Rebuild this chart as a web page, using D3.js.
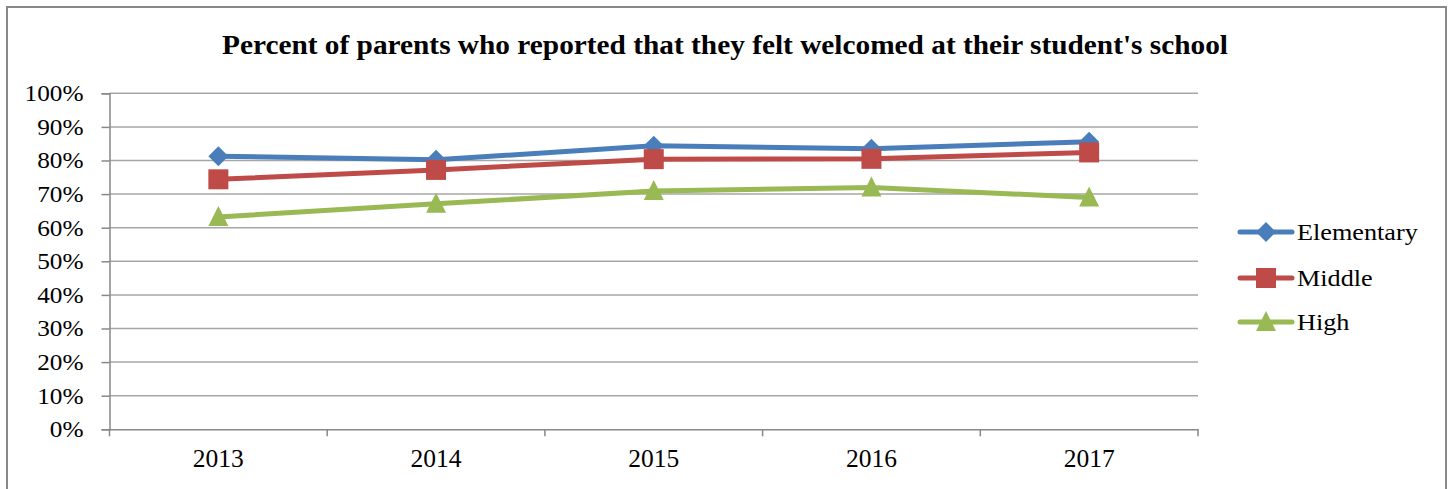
<!DOCTYPE html>
<html>
<head>
<meta charset="utf-8">
<script src="https://cdn.jsdelivr.net/npm/d3@7"></script>
<style>
  html, body { margin: 0; padding: 0; background: #fff; }
  svg { display: block; }
  text { font-family: "Liberation Serif", "Times New Roman", serif; fill: #000; }
</style>
</head>
<body>
<svg id="chart" width="1450" height="489"></svg>
<script>
const title = "Percent of parents who reported that they felt welcomed at their student's school";
const years = ["2013", "2014", "2015", "2016", "2017"];
const elementary = [81.3, 80.2, 84.4, 83.5, 85.6];
const middle = [74.4, 77.2, 80.4, 80.5, 82.4];
const high = [63.2, 67.1, 70.9, 72.0, 69.0];
const seriesNames = ["Elementary", "Middle", "High"];
const yTicks = [0, 10, 20, 30, 40, 50, 60, 70, 80, 90, 100];

const colors = ["#4A7EBB", "#BE4B48", "#98B954"];
const shapes = ["diamond", "square", "triangle"];
const seriesData = [elementary, middle, high];

const svg = d3.select("#chart");

// outer border
svg.append("rect").attr("x", 7).attr("y", 7).attr("width", 1439).attr("height", 500)
  .attr("fill", "none").attr("stroke", "#888").attr("stroke-width", 2);

const plot = {left: 109.5, right: 1198, top: 93.3, bottom: 429.3};

const x = d3.scaleBand().domain(years).range([plot.left, plot.right]).paddingInner(0).paddingOuter(0);
const y = d3.scaleLinear().domain([0, 100]).range([plot.bottom, plot.top]);

// title
svg.append("text").attr("x", 725).attr("y", 54).attr("text-anchor", "middle")
  .attr("font-size", 26.5).attr("font-weight", "bold")
  .attr("textLength", 1006).attr("lengthAdjust", "spacingAndGlyphs")
  .text(title);

// gridlines
svg.append("g").selectAll("line").data(yTicks.filter(d => d > 0)).join("line")
  .attr("x1", plot.left).attr("x2", plot.right)
  .attr("y1", d => y(d)).attr("y2", d => y(d))
  .attr("stroke", "#a6a6a6").attr("stroke-width", 1.5);

// y axis
const yAxis = d3.axisLeft(y).tickValues(yTicks).tickSize(8).tickPadding(18).tickFormat(d => d + "%");
const gy = svg.append("g").attr("transform", `translate(${plot.left},0)`).call(yAxis);
gy.select(".domain").attr("stroke", "#888").attr("stroke-width", 1.5);
gy.selectAll(".tick line").attr("stroke", "#888").attr("stroke-width", 1.5);
gy.selectAll(".tick text").attr("font-size", 23).attr("font-family", "Liberation Serif").attr("fill", "#000")
  .attr("dy", "0.32em")
  .each(function() {
    const t = d3.select(this);
    const xx = +t.attr("x");
    t.attr("transform", `translate(${xx},0) scale(1.1,1) translate(${-xx},0)`);
  });

// x axis
const xAxis = d3.axisBottom(x).tickSize(0).tickPadding(30);
const gx = svg.append("g").attr("transform", `translate(0,${plot.bottom})`).call(xAxis);
gx.select(".domain").attr("stroke", "#888").attr("stroke-width", 1.5);
gx.selectAll(".tick text").attr("font-size", 25.5).attr("font-family", "Liberation Serif").attr("fill", "#000").attr("dy", "0.3em");
// boundary tick marks
const bounds = years.map(d => x(d)).concat([x(years[years.length - 1]) + x.bandwidth()]);
gx.append("g").selectAll("line").data(bounds).join("line")
  .attr("x1", d => d).attr("x2", d => d).attr("y1", 0).attr("y2", 7)
  .attr("stroke", "#888").attr("stroke-width", 1.5);

function marker(g, shape, color, cx, cy) {
  if (shape === "diamond") {
    g.append("path").attr("d", `M${cx},${cy-10}L${cx+10},${cy}L${cx},${cy+10}L${cx-10},${cy}Z`).attr("fill", color);
  } else if (shape === "square") {
    g.append("rect").attr("x", cx - 10).attr("y", cy - 10).attr("width", 20).attr("height", 20).attr("fill", color);
  } else {
    g.append("path").attr("d", `M${cx},${cy-11}L${cx+10},${cy+9}L${cx-10},${cy+9}Z`).attr("fill", color);
  }
}

const line = d3.line().x((d, i) => x(years[i]) + x.bandwidth() / 2).y(d => y(d));

seriesData.forEach((vals, si) => {
  const g = svg.append("g");
  g.append("path").datum(vals).attr("d", line).attr("fill", "none")
    .attr("stroke", colors[si]).attr("stroke-width", 5).attr("stroke-linejoin", "round").attr("stroke-linecap", "round");
  vals.forEach((v, i) => marker(g, shapes[si], colors[si], x(years[i]) + x.bandwidth() / 2, y(v)));
});

// legend
const legendY = [232, 278, 322];
seriesNames.forEach((name, si) => {
  const g = svg.append("g");
  const ly = legendY[si];
  g.append("line").attr("x1", 1240).attr("x2", 1292).attr("y1", ly).attr("y2", ly)
    .attr("stroke", colors[si]).attr("stroke-width", 5).attr("stroke-linecap", "round");
  marker(g, shapes[si], colors[si], 1266, ly);
  g.append("text").attr("x", 1297).attr("y", ly).attr("dy", "0.35em").attr("font-size", 23)
    .attr("transform", `translate(1297,0) scale(1.14,1) translate(-1297,0)`)
    .text(name);
});
</script>
</body>
</html>
